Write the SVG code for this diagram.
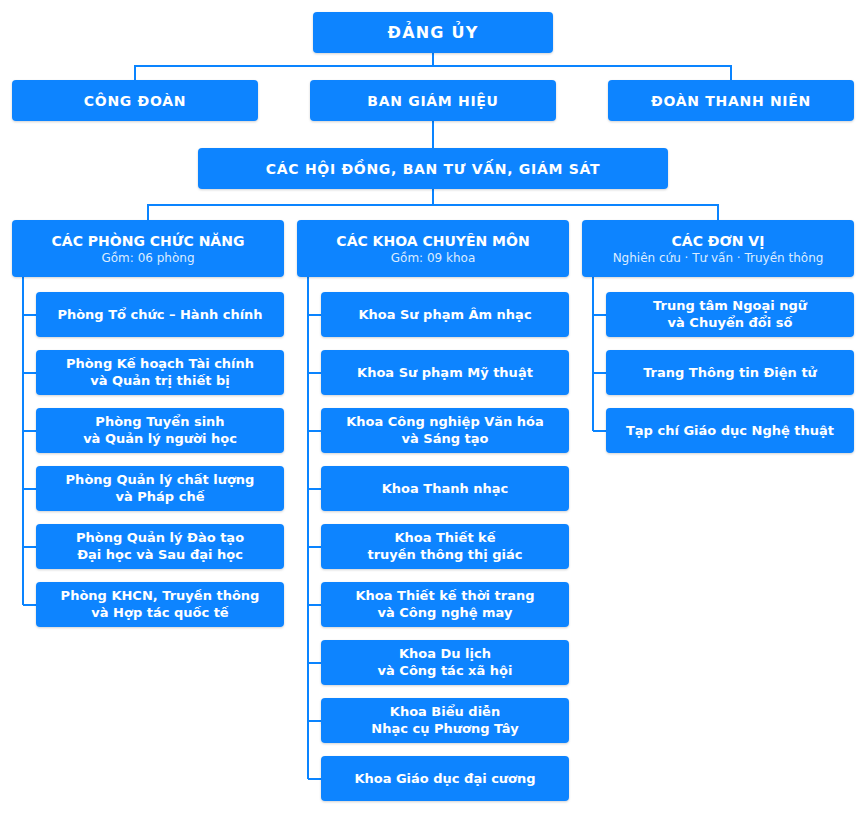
<svg xmlns="http://www.w3.org/2000/svg" width="866" height="818" viewBox="0 0 866 818">
<defs>
<filter id="sh" x="-10%" y="-20%" width="120%" height="150%">
<feDropShadow dx="0" dy="1" stdDeviation="1.2" flood-color="#000" flood-opacity="0.18"/>
</filter>
<style>
.b{fill:#0a84ff;filter:url(#sh)}
.t{font-family:"DejaVu Sans",sans-serif;font-weight:bold;fill:#fff;text-anchor:middle}
.t1{font-size:16px;letter-spacing:1.2px}
.t2{font-size:14px;letter-spacing:0.7px}
.th{font-size:14px;letter-spacing:0px}
.t3{font-size:13px}
.s{font-family:"DejaVu Sans",sans-serif;font-size:12px;fill:#dcecff;text-anchor:middle}
.c{fill:none;stroke:#0a84ff;stroke-width:2}
</style>
</defs>
<rect width="866" height="818" fill="#fff"/>
<g id="connectors">
<path class="c" d="M433 53V66M135 80V66H731V80M433 121V148M433 189V205M148 220V205H718V220"/>
<path class="c" d="M23 277V605M23 315H36M23 373H36M23 431H36M23 489H36M23 547H36M23 605H36"/>
<path class="c" d="M308 277V779M308 315H321M308 373H321M308 431H321M308 489H321M308 547H321M308 605H321M308 663H321M308 721H321M308 779H321"/>
<path class="c" d="M593 277V431M593 315H606M593 373H606M593 431H606"/>
</g>
<g id="dang-uy"><rect class="b" x="313" y="12" width="240" height="41" rx="4"/><text class="t t1" x="433" y="38">ĐẢNG ỦY</text></g>
<g id="cong-doan"><rect class="b" x="12" y="80" width="246" height="41" rx="4"/><text class="t t2" x="135" y="106">CÔNG ĐOÀN</text></g>
<g id="ban-giam-hieu"><rect class="b" x="310" y="80" width="246" height="41" rx="4"/><text class="t t2" x="433" y="106">BAN GIÁM HIỆU</text></g>
<g id="doan-thanh-nien"><rect class="b" x="608" y="80" width="246" height="41" rx="4"/><text class="t t2" x="731" y="106">ĐOÀN THANH NIÊN</text></g>
<g id="hoi-dong"><rect class="b" x="198" y="148" width="470" height="41" rx="4"/><text class="t t2" x="433" y="174">CÁC HỘI ĐỒNG, BAN TƯ VẤN, GIÁM SÁT</text></g>
<g id="phong"><rect class="b" x="12" y="220" width="272" height="57" rx="4"/><text class="t th" x="148" y="246">CÁC PHÒNG CHỨC NĂNG</text><text class="s" x="148" y="262">Gồm: 06 phòng</text></g>
<g id="khoa"><rect class="b" x="297" y="220" width="272" height="57" rx="4"/><text class="t th" x="433" y="246">CÁC KHOA CHUYÊN MÔN</text><text class="s" x="433" y="262">Gồm: 09 khoa</text></g>
<g id="don-vi"><rect class="b" x="582" y="220" width="272" height="57" rx="4"/><text class="t th" x="718" y="246">CÁC ĐƠN VỊ</text><text class="s" x="718" y="262">Nghiên cứu · Tư vấn · Truyền thông</text></g>

<g id="p1"><rect class="b" x="36" y="292" width="248" height="45" rx="4"/><text class="t t3" x="160" y="319">Phòng Tổ chức – Hành chính</text></g>
<g id="p2"><rect class="b" x="36" y="350" width="248" height="45" rx="4"/><text class="t t3" x="160" y="368">Phòng Kế hoạch Tài chính</text><text class="t t3" x="160" y="385">và Quản trị thiết bị</text></g>
<g id="p3"><rect class="b" x="36" y="408" width="248" height="45" rx="4"/><text class="t t3" x="160" y="426">Phòng Tuyển sinh</text><text class="t t3" x="160" y="443">và Quản lý người học</text></g>
<g id="p4"><rect class="b" x="36" y="466" width="248" height="45" rx="4"/><text class="t t3" x="160" y="484">Phòng Quản lý chất lượng</text><text class="t t3" x="160" y="501">và Pháp chế</text></g>
<g id="p5"><rect class="b" x="36" y="524" width="248" height="45" rx="4"/><text class="t t3" x="160" y="542">Phòng Quản lý Đào tạo</text><text class="t t3" x="160" y="559">Đại học và Sau đại học</text></g>
<g id="p6"><rect class="b" x="36" y="582" width="248" height="45" rx="4"/><text class="t t3" x="160" y="600">Phòng KHCN, Truyền thông</text><text class="t t3" x="160" y="617">và Hợp tác quốc tế</text></g>

<g id="k1"><rect class="b" x="321" y="292" width="248" height="45" rx="4"/><text class="t t3" x="445" y="319">Khoa Sư phạm Âm nhạc</text></g>
<g id="k2"><rect class="b" x="321" y="350" width="248" height="45" rx="4"/><text class="t t3" x="445" y="377">Khoa Sư phạm Mỹ thuật</text></g>
<g id="k3"><rect class="b" x="321" y="408" width="248" height="45" rx="4"/><text class="t t3" x="445" y="426">Khoa Công nghiệp Văn hóa</text><text class="t t3" x="445" y="443">và Sáng tạo</text></g>
<g id="k4"><rect class="b" x="321" y="466" width="248" height="45" rx="4"/><text class="t t3" x="445" y="493">Khoa Thanh nhạc</text></g>
<g id="k5"><rect class="b" x="321" y="524" width="248" height="45" rx="4"/><text class="t t3" x="445" y="542">Khoa Thiết kế</text><text class="t t3" x="445" y="559">truyền thông thị giác</text></g>
<g id="k6"><rect class="b" x="321" y="582" width="248" height="45" rx="4"/><text class="t t3" x="445" y="600">Khoa Thiết kế thời trang</text><text class="t t3" x="445" y="617">và Công nghệ may</text></g>
<g id="k7"><rect class="b" x="321" y="640" width="248" height="45" rx="4"/><text class="t t3" x="445" y="658">Khoa Du lịch</text><text class="t t3" x="445" y="675">và Công tác xã hội</text></g>
<g id="k8"><rect class="b" x="321" y="698" width="248" height="45" rx="4"/><text class="t t3" x="445" y="716">Khoa Biểu diễn</text><text class="t t3" x="445" y="733">Nhạc cụ Phương Tây</text></g>
<g id="k9"><rect class="b" x="321" y="756" width="248" height="45" rx="4"/><text class="t t3" x="445" y="783">Khoa Giáo dục đại cương</text></g>

<g id="d1"><rect class="b" x="606" y="292" width="248" height="45" rx="4"/><text class="t t3" x="730" y="310">Trung tâm Ngoại ngữ</text><text class="t t3" x="730" y="327">và Chuyển đổi số</text></g>
<g id="d2"><rect class="b" x="606" y="350" width="248" height="45" rx="4"/><text class="t t3" x="730" y="377">Trang Thông tin Điện tử</text></g>
<g id="d3"><rect class="b" x="606" y="408" width="248" height="45" rx="4"/><text class="t t3" x="730" y="435">Tạp chí Giáo dục Nghệ thuật</text></g>
</svg>
